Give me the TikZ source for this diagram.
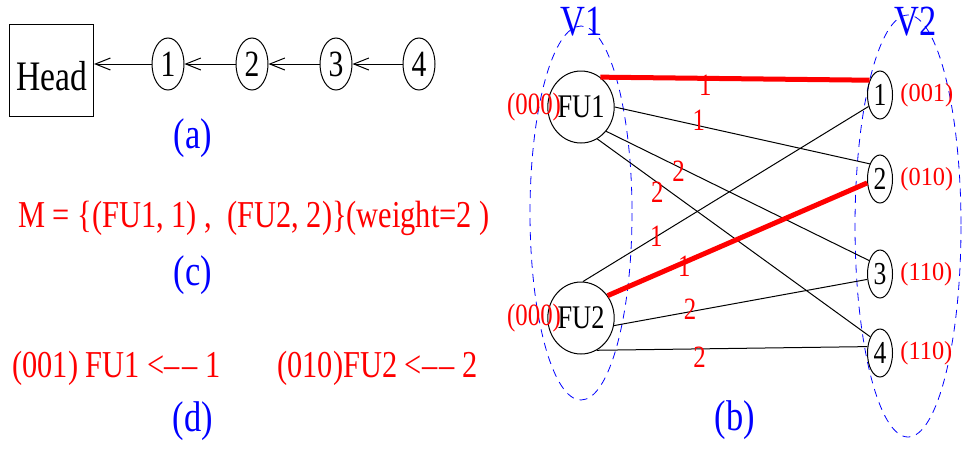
\documentclass[tikz,border=0pt]{standalone}
\usepackage{fontspec}
\setmainfont{Liberation Serif}[FakeStretch=0.8]
\usetikzlibrary{shapes.geometric, arrows.meta, positioning}

\begin{document}
\begin{tikzpicture}[x=0.5pt, y=-0.5pt,
    vert/.style={draw, ellipse, inner sep=0pt, line width=0.5pt},
    lnode/.style={vert, minimum width=16pt, minimum height=26pt, font=\fontsize{18.5}{18.5}\selectfont},
    fu/.style={vert, minimum width=24.5pt, minimum height=36pt, font=\fontsize{16.5}{16.5}\selectfont},
    unit/.style={vert, minimum width=12.5pt, minimum height=24pt, font=\fontsize{16}{16}\selectfont},
    tag/.style={text=blue, inner sep=0pt, font=\fontsize{21.5}{21.5}\selectfont},
    bits/.style={text=red, inner sep=0pt, font=\fontsize{15.5}{15.5}\selectfont},
    wt/.style={text=red, inner sep=0pt, font=\fontsize{15.5}{15.5}\selectfont},
    formula/.style={text=red, inner sep=0pt, anchor=west, font=\fontsize{19}{19}\selectfont},
    side/.style={draw=blue, dash pattern=on 4pt off 3pt, line width=0.4pt},
    link/.style={line width=0.5pt},
    matched/.style={red, line width=2.5pt},
    arrow/.style={-{Straight Barb[length=7.5pt, width=6pt]}, line width=0.5pt}
]
    \useasboundingbox (0,0) rectangle (962,450);

    % (a) linked list
    \node[draw, line width=0.5pt, minimum width=41.5pt, minimum height=46pt, text height=20pt, text depth=0pt, font=\fontsize{21}{21}\selectfont] (head) at (51.5,70) {Head};
    \node[lnode] (c1) at (168,64) {1};
    \node[lnode] (c2) at (252,64) {2};
    \node[lnode] (c3) at (336,64) {3};
    \node[lnode] (c4) at (419,64) {4};

    \draw[arrow] (c1.west) -- (c1.west -| head.east);
    \draw[arrow] (c2.west) -- (c1.east);
    \draw[arrow] (c3.west) -- (c2.east);
    \draw[arrow] (c4.west) -- (c3.east);

    \node[tag] (capa) at (193,138) {(a)};

    % (c) matching
    \node[formula] (mset) at (18,218) {M = \{(FU1, 1) ,\ \ (FU2, 2)\}(weight=2 )};
    \node[tag] (capc) at (193,275) {(c)};

    % (d) assignment
    \node[formula] (asg1) at (12,368) {(001) FU1 <--\kern1.2pt-- 1};
    \node[formula] (asg2) at (277,368) {(010)FU2 <--\kern1.2pt-- 2};
    \node[tag] (capd) at (193,421) {(d)};

    % (b) bipartite graph
    \draw[side] (581,213) ellipse [x radius=51, y radius=187];
    \draw[side] (908,226) ellipse [x radius=53, y radius=211];
    \node[tag] (v1) at (582,22) {V1};
    \node[tag] (v2) at (916,22) {V2};

    \node[fu] (fu1) at (581,107) {FU1};
    \node[fu] (fu2) at (581,318) {FU2};
    \node[bits, left=-7pt of fu1] (fu1bits) {(000)};
    \node[bits, left=-7pt of fu2] (fu2bits) {(000)};

    \node[unit] (u1) at (880,95) {1};
    \node[unit] (u2) at (880,179) {2};
    \node[unit] (u3) at (880,274) {3};
    \node[unit] (u4) at (880,353) {4};
    \node[bits, xscale=1.17, font=\fontsize{13}{13}\selectfont, right=3.5pt of u1] (u1bits) {(001)};
    \node[bits, xscale=1.17, font=\fontsize{13}{13}\selectfont, right=3.5pt of u2] (u2bits) {(010)};
    \node[bits, xscale=1.17, font=\fontsize{13}{13}\selectfont, right=3.5pt of u3] (u3bits) {(110)};
    \node[bits, xscale=1.17, font=\fontsize{13}{13}\selectfont, right=3.5pt of u4] (u4bits) {(110)};

    % Edges
    \draw[link] (fu1.0) -- node[wt, pos=0.33, yshift=2.8pt] (w12) {1} (u2.124);
    \draw[link] (fu1.-44) -- node[wt, pos=0.275, yshift=-2pt] (w13) {2} (u3.129);
    \draw[link] (fu1.-63) -- node[wt, pos=0.22, yshift=-5pt] (w14) {2} (u4.121);
    \draw[link] (fu2.87) -- node[wt, pos=0.257] (w21) {1} (u1.225);
    \draw[link] (fu2.-13) -- node[wt, pos=0.30, yshift=1.2pt] (w23) {2} (u3.203);
    \draw[link] (fu2.-64) -- node[wt, pos=0.38, yshift=-4pt] (w24) {2} (u4.153);

    \draw[matched] (fu1.57) -- node[wt, pos=0.39, yshift=-3.5pt] (w11) {1} (u1.125);
    \draw[matched] (fu2.40) -- node[wt, pos=0.295, yshift=-2pt] (w22) {1} (u2.197);

    \node[tag] (capb) at (735,420) {(b)};
\end{tikzpicture}
\end{document}
